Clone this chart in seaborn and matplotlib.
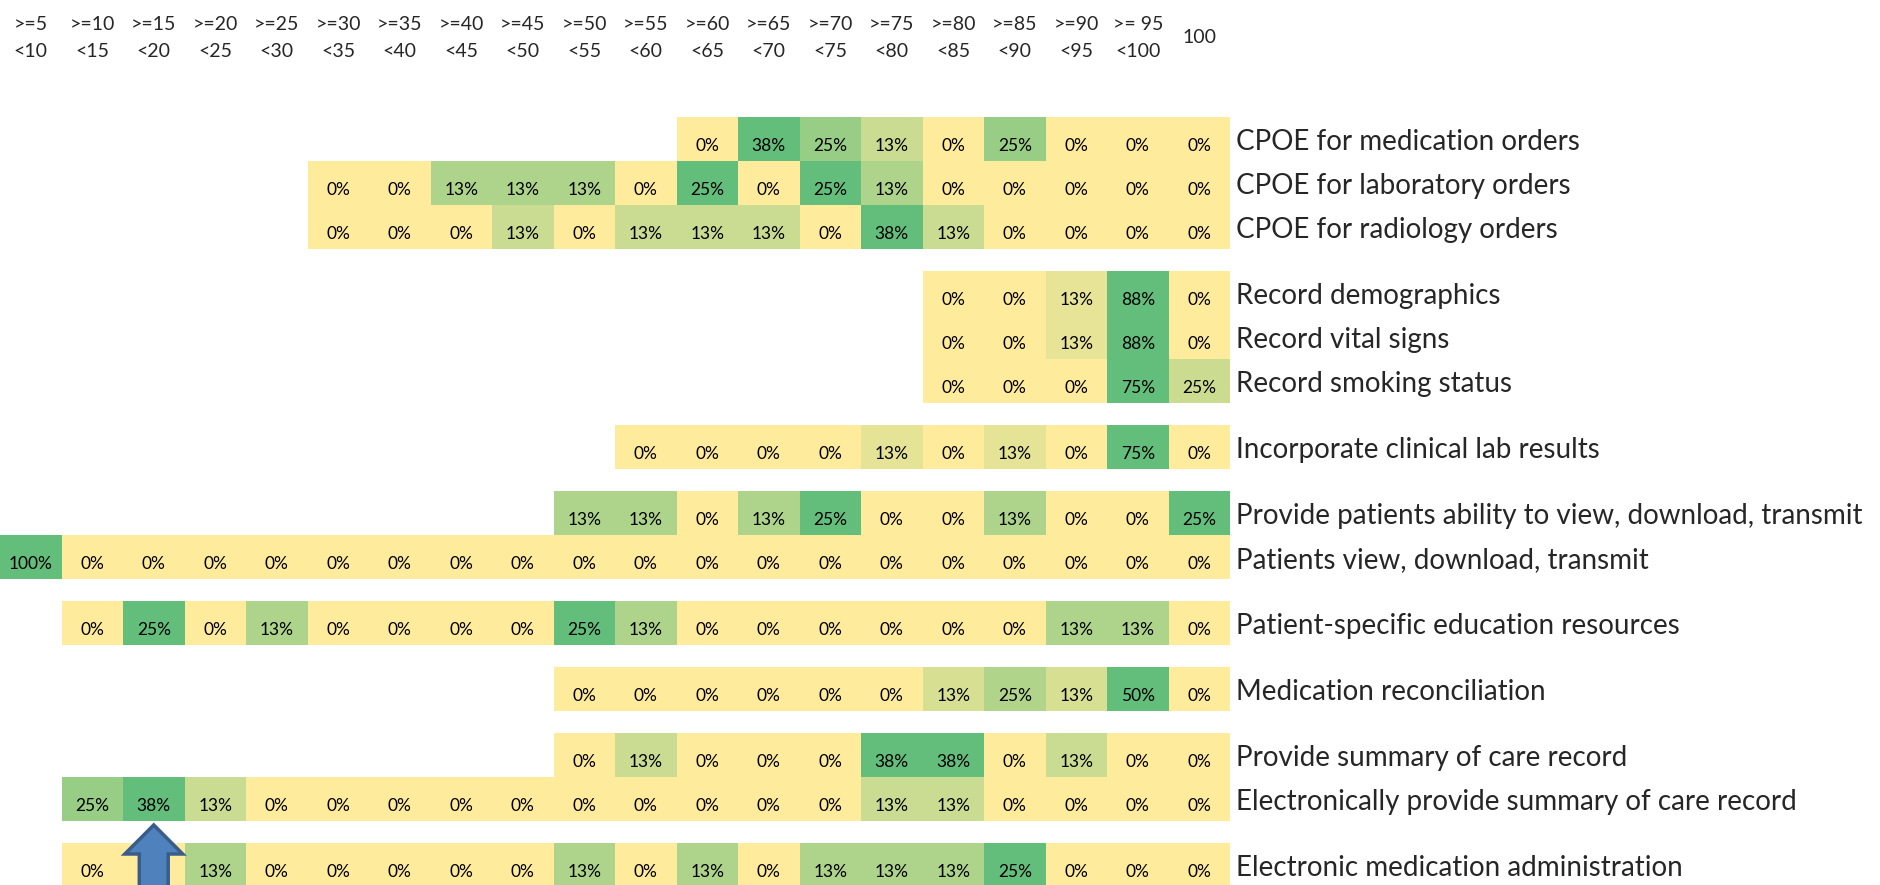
import numpy as np
import pandas as pd
import matplotlib
matplotlib.use("Agg")
import matplotlib.pyplot as plt
import seaborn as sns
from matplotlib.colors import LinearSegmentedColormap
from matplotlib.patches import FancyArrow

sns.set_theme(style="white")
plt.rcParams['font.family'] = ['Lato', 'DejaVu Sans']

# score bins (column headers)
bin_low = ['>=5', '>=10', '>=15', '>=20', '>=25', '>=30', '>=35', '>=40', '>=45', '>=50',
           '>=55', '>=60', '>=65', '>=70', '>=75', '>=80', '>=85', '>=90', '>= 95']
bin_high = ['<10', '<15', '<20', '<25', '<30', '<35', '<40', '<45', '<50', '<55',
            '<60', '<65', '<70', '<75', '<80', '<85', '<90', '<95', '<100']
col_labels = [lo + "\n" + hi for lo, hi in zip(bin_low, bin_high)] + ['100']

measures = [
    "CPOE for medication orders",
    "CPOE for laboratory orders",
    "CPOE for radiology orders",
    "Record demographics",
    "Record vital signs",
    "Record smoking status",
    "Incorporate clinical lab results",
    "Provide patients ability to view, download, transmit",
    "Patients view, download, transmit",
    "Patient-specific education resources",
    "Medication reconciliation",
    "Provide summary of care record",
    "Electronically provide summary of care record",
    "Electronic medication administration",
]
group_sizes = [3, 3, 1, 2, 1, 1, 2, 1]

# first bin that has a value, then the % of hospitals per bin
start_col = [11, 5, 5, 15, 15, 15, 10, 9, 0, 1, 9, 9, 1, 1]
pct_values = [
    [0, 38, 25, 13, 0, 25, 0, 0, 0],
    [0, 0, 13, 13, 13, 0, 25, 0, 25, 13, 0, 0, 0, 0, 0],
    [0, 0, 0, 13, 0, 13, 13, 13, 0, 38, 13, 0, 0, 0, 0],
    [0, 0, 13, 88, 0],
    [0, 0, 13, 88, 0],
    [0, 0, 0, 75, 25],
    [0, 0, 0, 0, 13, 0, 13, 0, 75, 0],
    [13, 13, 0, 13, 25, 0, 0, 13, 0, 0, 25],
    [100, 0, 0, 0, 0, 0, 0, 0, 0, 0, 0, 0, 0, 0, 0, 0, 0, 0, 0, 0],
    [0, 25, 0, 13, 0, 0, 0, 0, 25, 13, 0, 0, 0, 0, 0, 0, 13, 13, 0],
    [0, 0, 0, 0, 0, 0, 13, 25, 13, 50, 0],
    [0, 13, 0, 0, 0, 38, 38, 0, 13, 0, 0],
    [25, 38, 13, 0, 0, 0, 0, 0, 0, 0, 0, 0, 0, 13, 13, 0, 0, 0, 0],
    [0, 0, 13, 0, 0, 0, 0, 0, 13, 0, 13, 0, 13, 13, 13, 25, 0, 0, 0],
]

pct = np.full((len(measures), len(col_labels)), np.nan)
for i, (s, vals) in enumerate(zip(start_col, pct_values)):
    pct[i, s:s + len(vals)] = vals
# colour scale is per row (excel conditional formatting)
norm = pct / np.nanmax(pct, axis=1, keepdims=True)
txt = np.where(np.isnan(pct), "", np.char.add(np.nan_to_num(pct).astype(int).astype(str), "%"))

cmap = LinearSegmentedColormap.from_list("yg", ["#FFEB9C", "#63BE7B"])

W, H = 1880, 885
fig = plt.figure(figsize=(W / 100, H / 100), dpi=100)
row_h = 44.0
gap = 22.0
grid_w = 1230.0

top = 117.0
r0 = 0
axes = []
for n in group_sizes:
    ax = fig.add_axes([0, 1 - (top + n * row_h) / H, grid_w / W, n * row_h / H])
    df = pd.DataFrame(norm[r0:r0 + n], index=measures[r0:r0 + n], columns=col_labels)
    sns.heatmap(df, ax=ax, cmap=cmap, vmin=0, vmax=1, cbar=False, mask=df.isna(),
                annot=txt[r0:r0 + n], fmt="", annot_kws=dict(size=12.5, color="black"))
    for t in ax.texts:
        x, y = t.get_position()
        t.set_position((x, y + 0.17))
    ax.yaxis.tick_right()
    # labels sit a touch below the row centre
    ax.set_yticks(np.arange(n) + 0.57)
    ax.set_yticklabels(measures[r0:r0 + n], rotation=0, va="center", fontsize=20)
    ax.tick_params(axis="y", length=0, pad=4)
    ax.set_ylabel("")
    ax.set_xlabel("")
    ax.set_xticks([])
    axes.append(ax)
    top += n * row_h + gap
    r0 += n

# column headers on top of the first block
ax0 = axes[0]
ax0.xaxis.tick_top()
ax0.set_xticks(np.arange(len(col_labels)) + 0.5)
ax0.set_xticklabels(col_labels, rotation=0, fontsize=14, va="center")
for t in ax0.get_xticklabels():
    t.set_linespacing(1.7)
ax0.tick_params(axis="x", length=0, pad=57)

# arrow pointing at the 38% cell
axl = axes[-1]
arr = FancyArrow(2.5, 1.2, 0, -1.61, width=0.47, head_width=0.94, head_length=0.66,
                 length_includes_head=True, fc="#4F81BD", ec="#385D8A", lw=2.5,
                 clip_on=False, zorder=10)
axl.add_patch(arr)

fig.savefig("out.png", dpi=100)
